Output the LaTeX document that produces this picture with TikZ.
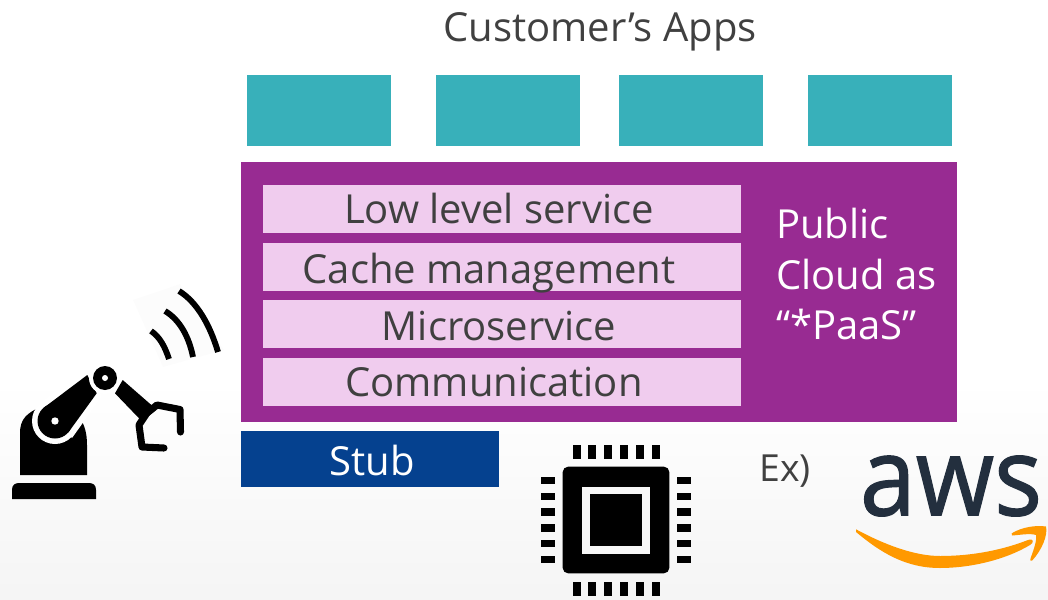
\documentclass[tikz,border=0pt]{standalone}
\usepackage{fontspec}
\setmainfont{Open Sans}
\newfontfamily\awsfont[FakeBold=1.2]{Open Sans}
\definecolor{teal1}{HTML}{38B0BA}
\definecolor{purple1}{HTML}{982B92}
\definecolor{pink1}{HTML}{F0CCEE}
\definecolor{navy1}{HTML}{05418F}
\definecolor{ink}{HTML}{404040}
\definecolor{awsink}{HTML}{232F3E}
\definecolor{awsorange}{HTML}{FF9900}
\tikzset{
  x=0.75pt,y=-0.75pt,
  box/.style={draw=none,inner sep=0pt,outer sep=0pt,anchor=north west,minimum width=#1},
  app/.style={box=144*0.75pt,minimum height=71*0.75pt,fill=teal1},
  layer/.style={box=478*0.75pt,minimum height=48*0.75pt,fill=pink1},
  label/.style={text=ink,inner sep=0pt,font=\fontsize{30}{36}\selectfont},
  wave/.style={draw=black,line width=4.4pt,line cap=butt}
}
\begin{document}
\begin{tikzpicture}
\useasboundingbox (0,0) rectangle (1048,599);
\shade[top color=white,bottom color=black!4] (0,380) rectangle (1048,599);

\node[label] (title) at (600,32) {Customer’s Apps};
\node[app] (a1) at (247,75) {};
\node[app] (a2) at (436,75) {};
\node[app] (a3) at (619,75) {};
\node[app] (a4) at (808,75) {};

\node[box=716*0.75pt,minimum height=260*0.75pt,fill=purple1] (cloud) at (241,162) {};
\node[layer] (l1) at (263,185) {};
\node[layer] (l2) at (263,243) {};
\node[layer] (l3) at (263,300) {};
\node[layer] (l4) at (263,358) {};
\node[label] (t1) at (499,208.5) {Low level service};
\node[label] (t2) at (489,273) {Cache management};
\node[label] (t3) at (499,326) {Microservice};
\node[label] (t4) at (494,382.5) {Communication};
\node[label,text=white,align=left,anchor=north west,font=\fontsize{30}{38}\selectfont] (pub) at (776,208) {Public\\Cloud as\\“*PaaS”};

\node[box=258*0.75pt,minimum height=56*0.75pt,fill=navy1] (stub) at (241,431) {};
\node[label,text=white] (stubt) at (372,460) {Stub};
\node[label,font=\fontsize{28}{34}\selectfont] (ex) at (785,471) {Ex)};

% robot
\fill[black] (12,499) -- (12,490) .. controls (12,485) and (15,483) .. (19,483) -- (89,483) .. controls (93,483) and (96,485) .. (96,490) -- (96,499) -- cycle;
\fill[black] (20,475) -- (20,433) .. controls (20,418) and (28,413) .. (40,407) -- (80,418) .. controls (85,426) and (87,434) .. (87,445) -- (87,475) -- cycle;
\fill[white] (55,421) circle (23);
\fill[white] (39,404) -- (88,366) -- (102,396) -- (72,438) -- cycle;
\fill[black] (55,421) circle (17.5);
\fill[black] (43.5,408) -- (87.3,375) -- (96.7,393.3) -- (68.3,432.5) -- cycle;
\fill[white] (105,378) circle (16);
\fill[black] (105,378) circle (12);
\fill[white] (105,378) circle (3);
\fill[white] (55,421) circle (3.7);
\fill[black] (122.7,380) -- (154,407.3) -- (140,419.3) -- (115,393.3) -- cycle;
\draw[black,line width=5.3pt,line join=round,line cap=round] (146.7,413.3) -- (157,405) -- (180,409.5) -- (180.5,432);
\draw[black,line width=5.3pt,line join=round,line cap=round] (146.7,413.3) -- (139,425) -- (142,447) -- (164,448);
% waves
\fill[black!1] (133,300) -- (180,284) -- (224,350) -- (163,367) -- cycle;
\draw[wave] (151,331) .. controls (160,337) and (165,347) .. (169,359);
\draw[wave] (165,311) .. controls (180,320) and (189,337) .. (193,357);
\draw[wave] (179,291) .. controls (197,302) and (210,325) .. (218,352);

% chip
\fill[black,rounded corners=4pt] (562.7,466.7) rectangle (669.3,573.3);
\fill[white!97!black] (582.3,486.7) rectangle (650,554);
\fill[black] (589.7,493.7) rectangle (642.3,546.3);
\foreach \x in {573.3,588,604,620,636,652}{
  \fill[black] (\x,445) rectangle ++(8,14.3);
  \fill[black] (\x,582) rectangle ++(8,13.7);
}
\foreach \y in {477,493,508.3,524.3,540,556}{
  \fill[black] (541,\y) rectangle ++(14,7.3);
  \fill[black] (677,\y) rectangle ++(14,7.3);
}

% aws
\node[inner sep=0pt,text=awsink,xscale=0.92,font=\awsfont\fontsize{82}{90}\selectfont] (aws) at (951,486) {aws};
\fill[awsorange] (856,529.3) .. controls (885,545) and (915,556) .. (940,556) .. controls (975,556) and (1005,549) .. (1028,540) .. controls (1034,538) and (1034,543) .. (1030,545) .. controls (1005,560) and (970,568) .. (940,568) .. controls (905,568) and (880,552) .. (856,532) -- cycle;
\fill[awsorange] (1011.7,533.3) .. controls (1022,527) and (1036,525) .. (1046,526.5) .. controls (1048,535) and (1042,550) .. (1032,560.7) .. controls (1030,562) and (1030,560) .. (1031,557) .. controls (1034,549) and (1037,540) .. (1036,535) .. controls (1030,533) and (1020,535) .. (1012,535.5) -- cycle;
\end{tikzpicture}
\end{document}
